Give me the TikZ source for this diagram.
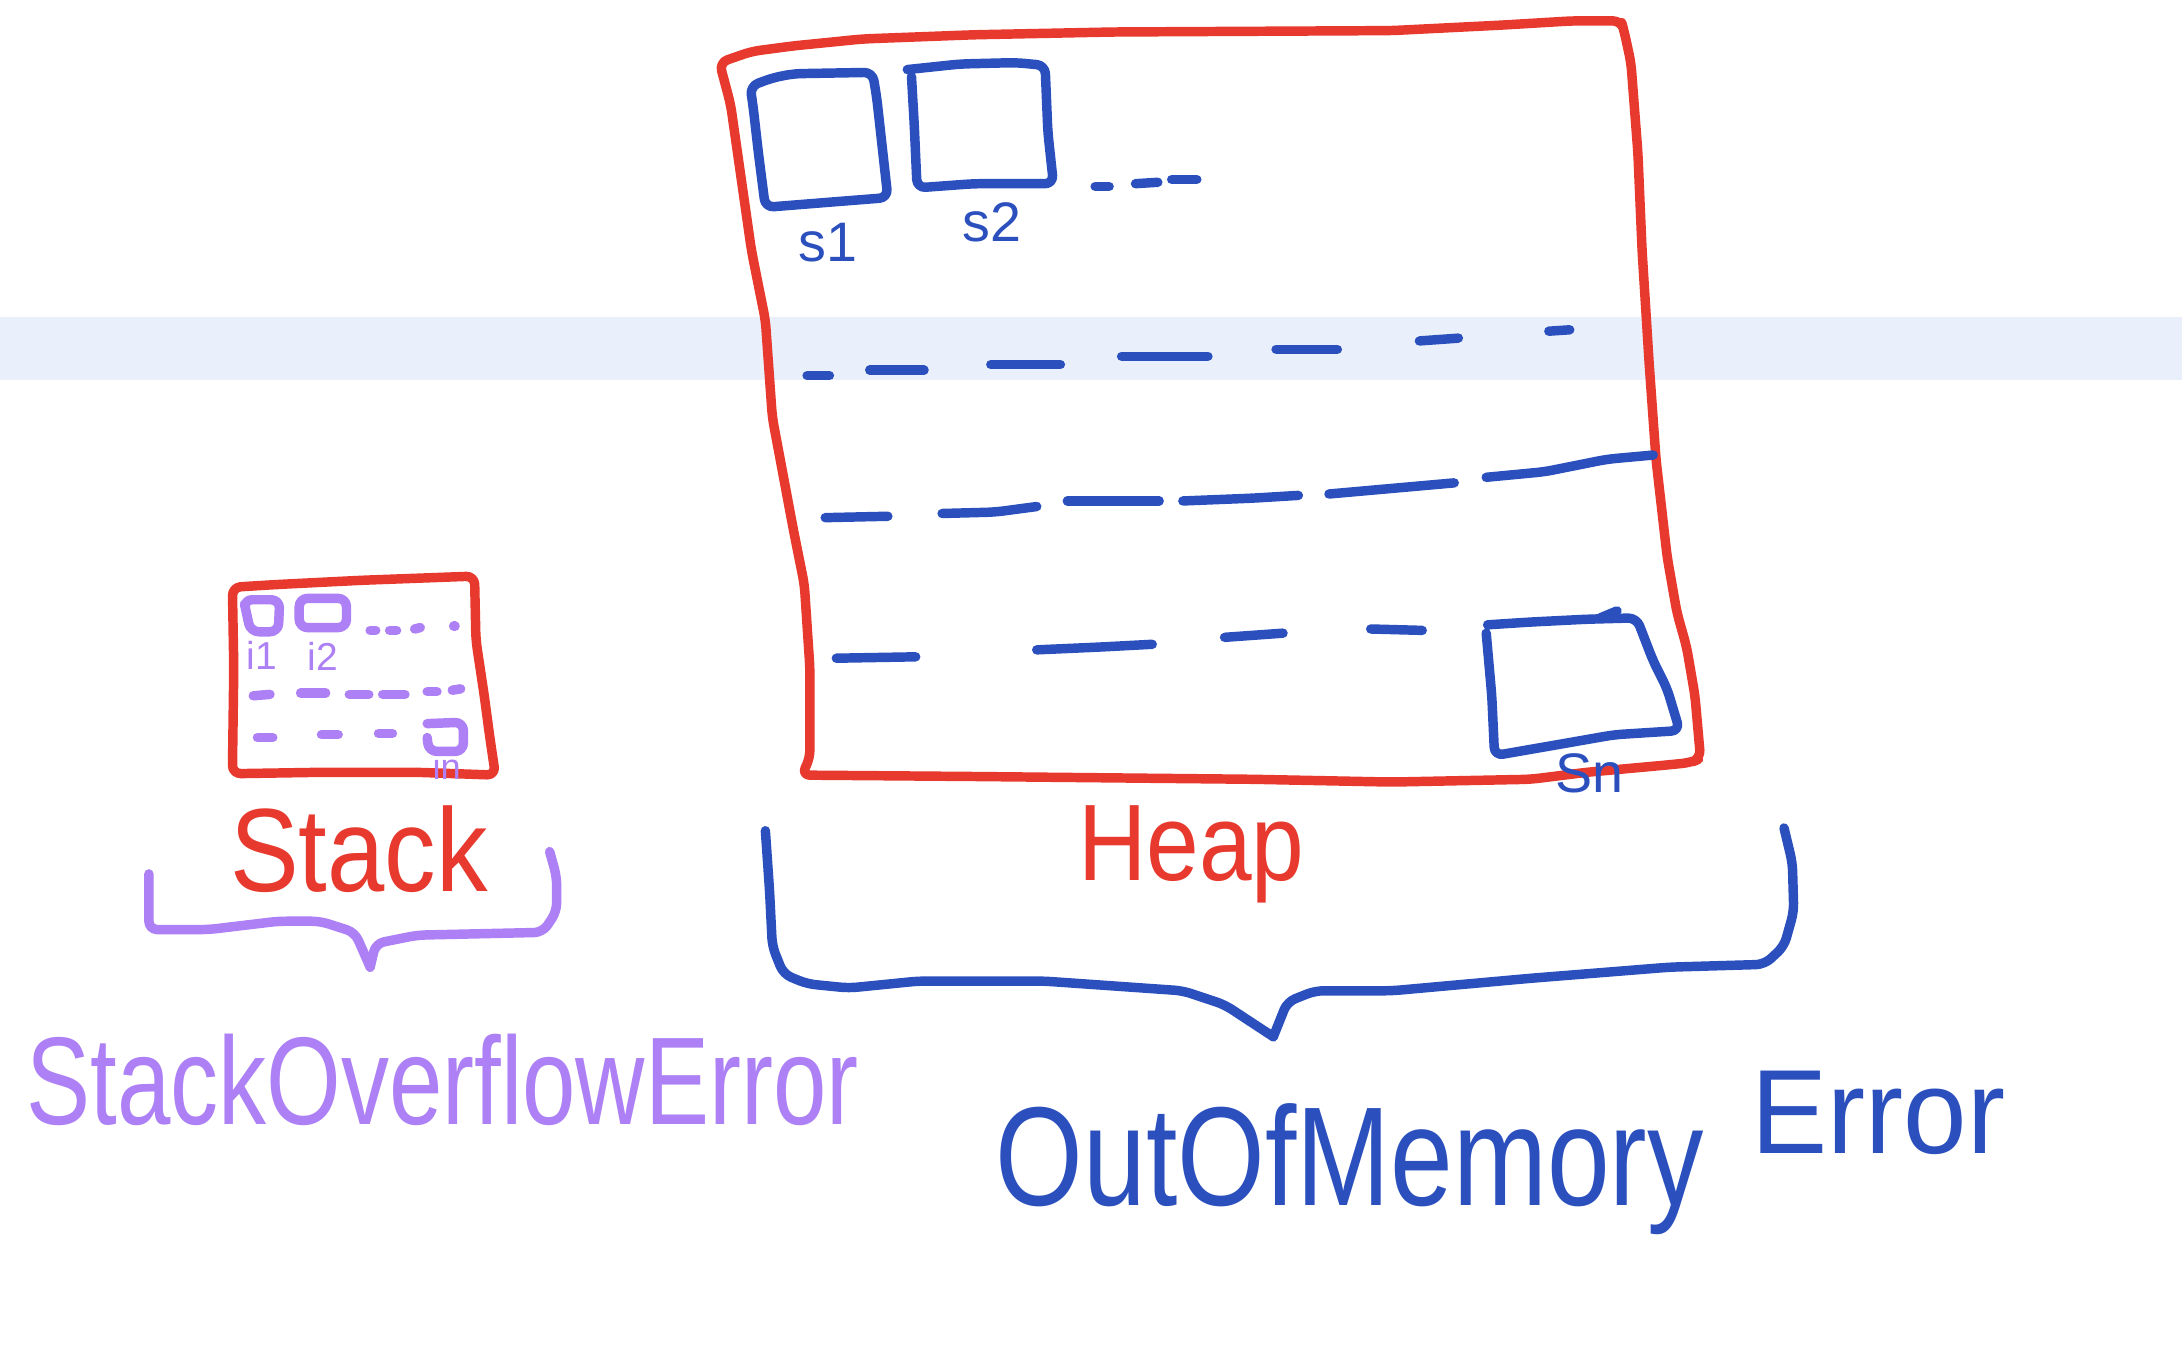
\documentclass[tikz,border=0pt]{standalone}
\usepackage{fontspec}
\setmainfont{Liberation Sans}
\definecolor{hred}{HTML}{E8392E}
\definecolor{hblue}{HTML}{2B50BE}
\definecolor{hpurple}{HTML}{AD80F5}
\definecolor{band}{HTML}{E9F0FB}
\begin{document}
\begin{tikzpicture}[x=0.5pt,y=-0.5pt,
  pen/.style={line width=3.4pt,line cap=round,line join=round,rounded corners=3pt},
  rd/.style={pen,draw=hred},
  bl/.style={pen,draw=hblue},
  pu/.style={pen,draw=hpurple},
  lab/.style={inner sep=0pt,anchor=center}]
\path[use as bounding box,fill=white] (0,0) rectangle (1568,977);
\fill[band] (0,228) rectangle (1568,273);

% ---------------- Heap box ----------------
\draw[rd] (517,45) -- (540,37) -- (570,33) -- (620,28) -- (700,25) -- (800,23) -- (1000,22)
  -- (1080,18) -- (1130,15) -- (1165,15) -- (1167,22) -- (1172,45) -- (1177,110) -- (1180,180)
  -- (1185,260) -- (1190,330) -- (1198,400) -- (1205,440) -- (1212,465) -- (1218,500)
  -- (1222,545) -- (1215,548) -- (1195,550) -- (1140,555) -- (1100,560) -- (1000,562)
  -- (900,560) -- (700,558) -- (576,557) -- (582,545) -- (582,480) -- (578,420) -- (570,380)
  -- (555,300) -- (550,230) -- (540,180) -- (525,75) -- cycle;

% s1 box
\draw[bl] (539,62) -- (555,56) -- (570,53) -- (627,52) -- (630,70) -- (638,142) -- (600,145)
  -- (550,149) -- (545,110) -- (541,75) -- cycle;
\node[lab,text=hblue,font=\fontsize{20}{20}\selectfont] (s1) at (595,174) {s1};
% s2 box
\draw[bl] (652,50) -- (690,46) -- (730,45) -- (751,47) -- (753,95) -- (757,132) -- (700,132)
  -- (659,135) -- (657,90) -- (655,55);
\node[lab,text=hblue,font=\fontsize{20}{20}\selectfont] (s2) at (713,160) {s2};
\draw[bl] (787,134) -- (797,134);
\draw[bl] (816,132) -- (832,131);
\draw[bl] (842,129) -- (860,129);

% heap dashes row 1
\draw[bl] (580,270) -- (596,270);
\draw[bl] (625,266) -- (664,266);
\draw[bl] (712,262) -- (762,262);
\draw[bl] (806,256) -- (868,256);
\draw[bl] (917,251) -- (961,251);
\draw[bl] (1020,245) -- (1048,243);
\draw[bl] (1113,238) -- (1128,237);
% row 2
\draw[bl] (593,372) -- (638,371);
\draw[bl] (677,369) -- (715,368) -- (745,364);
\draw[bl] (767,360) -- (833,360);
\draw[bl] (850,360) -- (900,358) -- (933,356);
\draw[bl] (955,355) -- (1000,351) -- (1045,347);
\draw[bl] (1068,343) -- (1110,339) -- (1155,330) -- (1188,327);
% row 3
\draw[bl] (601,473) -- (658,472);
\draw[bl] (745,467) -- (790,465) -- (828,463);
\draw[bl] (880,458) -- (922,455);
\draw[bl] (985,452) -- (1022,453);

% Sn box
\draw[bl] (1069,449) -- (1100,447) -- (1140,445) -- (1176,444) -- (1188,475) -- (1198,495)
  -- (1207,525) -- (1160,528) -- (1120,535) -- (1074,543) -- (1072,500) -- (1068,455);
\draw[bl] (1150,444) -- (1162,439);
\node[lab,text=hblue,font=\fontsize{20}{20}\selectfont] (sn) at (1142,556) {Sn};

% ---------------- Stack box ----------------
\draw[rd] (167,422) -- (200,420) -- (260,417) -- (341,414) -- (342,460) -- (348,500)
  -- (352,530) -- (356,557) -- (300,555) -- (230,555) -- (167,556) -- (168,480) -- cycle;
\draw[pu] (175,431) -- (201,431) -- (200,454) -- (180,454) -- (177,440) -- cycle;
\draw[pu] (215,430) -- (249,430) -- (249,451) -- (215,451) -- cycle;
\node[lab,text=hpurple,font=\fontsize{14}{14}\selectfont] (i1) at (188,471) {i1};
\node[lab,text=hpurple,font=\fontsize{14}{14}\selectfont] (i2) at (232,472) {i2};
\draw[pu] (266,453) -- (270,453);
\draw[pu] (280,453) -- (285,453);
\draw[pu] (298,452) -- (302,451);
\draw[pu] (326,450) -- (327,450);
\draw[pu] (182,500) -- (194,499);
\draw[pu] (216,498) -- (234,498);
\draw[pu] (251,499) -- (265,499);
\draw[pu] (275,499) -- (291,499);
\draw[pu] (307,497) -- (314,497);
\draw[pu] (325,496) -- (331,495);
\draw[pu] (185,530) -- (196,530);
\draw[pu] (231,528) -- (243,528);
\draw[pu] (272,527) -- (282,527);
\draw[pu] (307,520) -- (333,519) -- (333,540) -- (308,540) -- (307,530);
\node[lab,text=hpurple,font=\fontsize{13}{13}\selectfont] (in) at (321,551) {in};

% ---------------- labels ----------------
\node[lab,text=hred,font=\fontsize{37}{37}\selectfont,yscale=1.15] (stack) at (258,610) {Stack};
\node[lab,text=hred,font=\fontsize{34}{34}\selectfont,yscale=1.15] (heap) at (856,614) {Heap};

% purple brace
\draw[pu] (107,628) -- (107,668) -- (150,668) -- (200,662) -- (230,662) -- (255,670)
  -- (266,695);
\draw[pu] (266,695) -- (270,678) -- (300,672) -- (390,670) -- (400,655) -- (400,630) -- (395,612);
\node[lab,text=hpurple,font=\fontsize{34.5}{34.5}\selectfont,yscale=1.3] (soe) at (318,776) {StackOverflowError};

% blue brace
\draw[bl] (550,597) -- (553,640) -- (555,680) -- (563,700) -- (580,707) -- (610,710)
  -- (660,705) -- (750,705) -- (850,712) -- (880,722) -- (915,745);
\draw[bl] (915,745) -- (925,720) -- (945,712) -- (1000,712) -- (1100,703) -- (1200,695)
  -- (1268,693) -- (1282,680) -- (1289,655) -- (1288,620) -- (1282,595);
\node[lab,text=hblue,font=\fontsize{40.5}{40.5}\selectfont,yscale=1.25] (oom) at (970,840) {OutOfMemory};
\node[lab,text=hblue,font=\fontsize{41}{41}\selectfont,yscale=1.05] (err) at (1350,800) {Error};
\end{tikzpicture}
\end{document}
